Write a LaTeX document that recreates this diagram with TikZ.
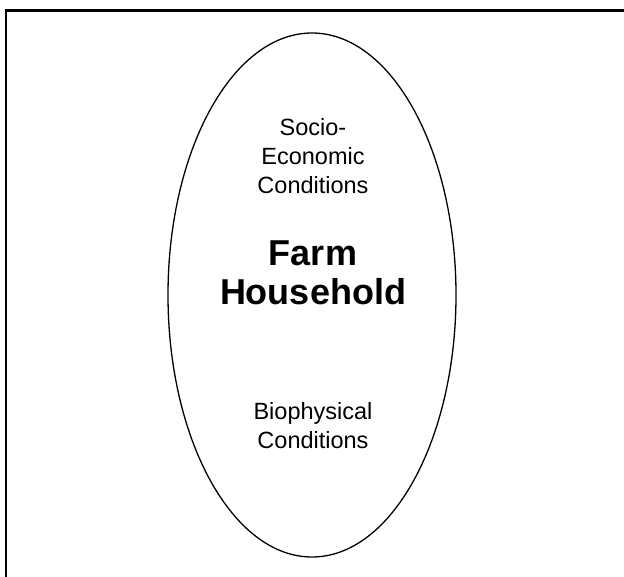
\documentclass[tikz,border=0pt]{standalone}
\usepackage{fontspec}
\setmainfont{Liberation Sans}
\usetikzlibrary{shapes.geometric, positioning}

\begin{document}
\begin{tikzpicture}[
    x=1pt, y=-1pt,
    frame/.style={draw=black, line width=2.3pt},
    household/.style={ellipse, draw=black, line width=1.3pt, minimum width=288pt, minimum height=524pt, inner sep=0pt},
    condition/.style={align=center, font=\fontsize{23.5}{29}\selectfont, inner sep=0pt},
    title/.style={align=center, font=\fontsize{36}{39}\selectfont\bfseries, inner sep=0pt}
]
    \useasboundingbox (0,0) rectangle (624,577);
    \clip (0,0) rectangle (624,577);
    % outer frame (only top and left edges show)
    \draw[frame] (6.2,10.5) rectangle (660,620);

    % farm household
    \node[household] (hh) at (312,295) {};
    \node[title] (farm) at (313,273) {Farm\\Household};

    % conditions
    \node[condition] (socio) at (313,156) {Socio-\\Economic\\Conditions};
    \node[condition] (bio) at (313,426) {Biophysical\\Conditions};

\end{tikzpicture}
\end{document}
